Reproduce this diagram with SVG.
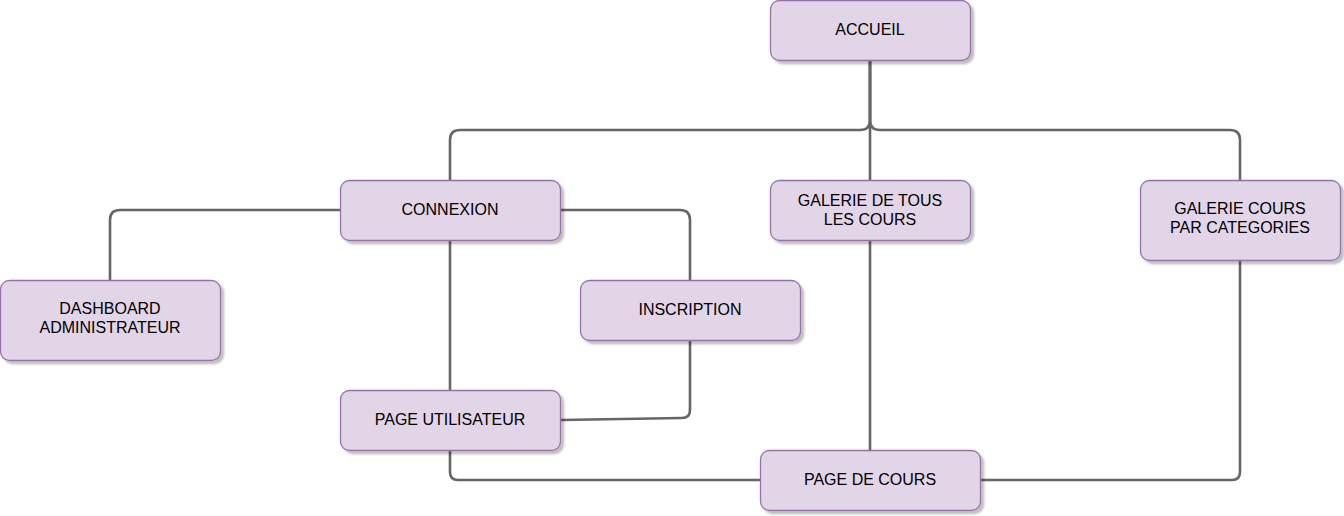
<svg xmlns="http://www.w3.org/2000/svg" width="1344" height="516" viewBox="0 0 1344 516">
<style>
.node rect{fill:#e1d5e7;stroke:#9673a6;stroke-width:1.3;filter:url(#sh)}
.node text{font-family:"Liberation Sans",Arial,sans-serif;font-size:16px;fill:#000;text-anchor:middle}
.edge path{fill:none;stroke:#666;stroke-width:2.6;stroke-linejoin:round}
</style>
<defs>
<filter id="sh" x="-10%" y="-10%" width="130%" height="140%">
<feDropShadow dx="3" dy="3" stdDeviation="0.8" flood-color="#000" flood-opacity="0.25"/>
</filter>
</defs>
<rect width="1344" height="516" fill="#fff"/>
<g id="connectors" class="edge">
<path d="M870,61 V120 Q870,130 860,130 H460 Q450,130 450,140 V181"/>
<path d="M870,61 V181"/>
<path d="M870,61 V120 Q870,130 880,130 H1230 Q1240,130 1240,140 V181"/>
<path d="M341,210 H120 Q110,210 110,220 V281"/>
<path d="M561,210 H680 Q690,210 690,220 V281"/>
<path d="M450,241 V391"/>
<path d="M690,341 V410 Q690,418 682,418 L561,420"/>
<path d="M450,451 V472 Q450,480 458,480 H761"/>
<path d="M870,241 V451"/>
<path d="M1240,261 V472 Q1240,480 1232,480 H981"/>
</g>
<g id="accueil" class="node"><rect x="770.5" y="0.5" width="200" height="60" rx="9"/><text x="870" y="35">ACCUEIL</text></g>
<g id="connexion" class="node"><rect x="340.5" y="180.5" width="220" height="60" rx="9"/><text x="450" y="215">CONNEXION</text></g>
<g id="galerie-tous" class="node"><rect x="770.5" y="180.5" width="200" height="60" rx="9"/><text x="870" y="205.5">GALERIE DE TOUS</text><text x="870" y="224.5">LES COURS</text></g>
<g id="galerie-cat" class="node"><rect x="1140.5" y="180.5" width="200" height="80" rx="9"/><text x="1240" y="213.5">GALERIE COURS</text><text x="1240" y="232.5">PAR CATEGORIES</text></g>
<g id="dashboard" class="node"><rect x="0.5" y="280.5" width="220" height="80" rx="9"/><text x="110" y="313.5">DASHBOARD</text><text x="110" y="332.5">ADMINISTRATEUR</text></g>
<g id="inscription" class="node"><rect x="580.5" y="280.5" width="220" height="60" rx="9"/><text x="690" y="314.5">INSCRIPTION</text></g>
<g id="page-utilisateur" class="node"><rect x="340.5" y="390.5" width="220" height="60" rx="9"/><text x="450" y="424.5">PAGE UTILISATEUR</text></g>
<g id="page-cours" class="node"><rect x="760.5" y="450.5" width="220" height="60" rx="9"/><text x="870" y="484.5">PAGE DE COURS</text></g>
</svg>
